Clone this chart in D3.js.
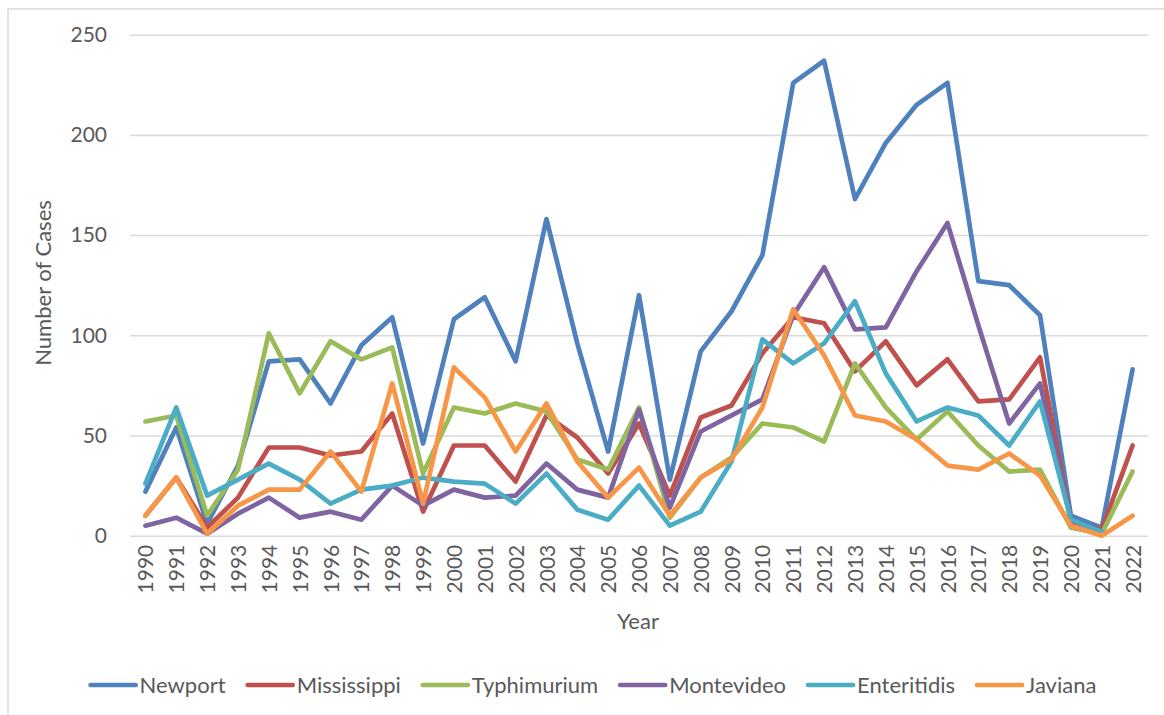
<!DOCTYPE html>
<html>
<head>
<meta charset="utf-8">
<script src="https://cdn.jsdelivr.net/npm/d3@7"></script>
<style>
  body { margin: 0; background: #fff; }
  svg { display: block; font-family: Lato, "Open Sans", sans-serif; }
</style>
</head>
<body>
<div id="chart"></div>
<script>
const years = d3.range(1990, 2023)

const seriesNames = ["Newport", "Mississippi", "Typhimurium", "Montevideo", "Enteritidis", "Javiana"]
const seriesColors = ["#4F81BD", "#C0504D", "#9BBB59", "#8064A2", "#4BACC6", "#F79646"]

const newport     = [22, 54, 6, 35, 87, 88, 66, 95, 109, 46, 108, 119, 87, 158, 96, 42, 120, 28, 92, 112, 140, 226, 237, 168, 196, 215, 226, 127, 125, 110, 10, 4, 83]
const mississippi = [10, 29, 4, 19, 44, 44, 40, 42, 61, 12, 45, 45, 27, 60, 49, 31, 56, 20, 59, 65, 91, 109, 106, 82, 97, 75, 88, 67, 68, 89, 7, 3, 45]
const typhimurium = [57, 60, 10, 33, 101, 71, 97, 88, 94, 31, 64, 61, 66, 62, 38, 33, 64, 9, 29, 39, 56, 54, 47, 86, 64, 48, 62, 45, 32, 33, 4, 1, 32]
const montevideo  = [5, 9, 1, 11, 19, 9, 12, 8, 25, 15, 23, 19, 20, 36, 23, 19, 63, 14, 52, 60, 68, 110, 134, 103, 104, 132, 156, 105, 56, 76, 8, 2, null]
const enteritidis = [26, 64, 20, 28, 36, 28, 16, 23, 25, 29, 27, 26, 16, 31, 13, 8, 25, 5, 12, 37, 98, 86, 96, 117, 81, 57, 64, 60, 45, 67, 8, 2, null]
const javiana     = [10, 29, 1, 15, 23, 23, 42, 22, 76, 16, 84, 69, 42, 66, 37, 19, 34, 10, 29, 38, 64, 113, 90, 60, 57, 48, 35, 33, 41, 30, 5, 0, 10]

const yTicks = [0, 50, 100, 150, 200, 250]

const allValues = [newport, mississippi, typhimurium, montevideo, enteritidis, javiana]

const width = 1164
const height = 715
const textColor = "#595959"
const gridColor = "#D9D9D9"

const svg = d3.select("#chart").append("svg")
    .attr("width", width)
    .attr("height", height)

svg.append("rect").attr("width", width).attr("height", height).attr("fill", "#fff")

// outer chart border (runs off the right/bottom edge)
svg.append("rect")
    .attr("x", 8).attr("y", 9)
    .attr("width", width + 10).attr("height", height + 10)
    .attr("fill", "none")
    .attr("stroke", gridColor)
    .attr("stroke-width", 1.5)

const x = d3.scalePoint()
    .domain(years)
    .range([130, 1148])
    .padding(0.5)

const y = d3.scaleLinear()
    .domain([0, 250])
    .range([535.7, 34.7])

// gridlines
svg.append("g")
    .attr("transform", "translate(130,0)")
    .call(d3.axisLeft(y).tickValues(yTicks).tickSize(-1018).tickFormat(""))
    .call(g => g.select(".domain").remove())
    .call(g => g.selectAll("line").attr("stroke", gridColor).attr("stroke-width", 1.5))

// y axis labels
svg.append("g")
    .attr("transform", "translate(130,0)")
    .call(d3.axisLeft(y).tickValues(yTicks).tickSize(0).tickPadding(23))
    .call(g => g.select(".domain").remove())
    .call(g => g.selectAll("text")
        .attr("fill", textColor)
        .style("font-size", "21px")
        .style("font-family", "Lato, sans-serif"))

// x axis labels
svg.append("g")
    .attr("transform", "translate(0,535.7)")
    .call(d3.axisBottom(x).tickSize(0))
    .call(g => g.select(".domain").remove())
    .call(g => g.selectAll("text")
        .attr("transform", "rotate(-90)")
        .attr("x", -9)
        .attr("y", 0)
        .attr("dy", "0.36em")
        .style("text-anchor", "end")
        .attr("fill", textColor)
        .style("font-size", "21px")
        .style("font-family", "Lato, sans-serif"))

// axis titles
svg.append("text")
    .attr("transform", "translate(51,283) rotate(-90)")
    .attr("text-anchor", "middle")
    .attr("fill", textColor)
    .style("font-size", "22px")
    .text("Number of Cases")

svg.append("text")
    .attr("x", 638)
    .attr("y", 629)
    .attr("text-anchor", "middle")
    .attr("fill", textColor)
    .style("font-size", "22px")
    .text("Year")

// lines
const line = d3.line()
    .defined(d => d.v != null)
    .x(d => x(d.year))
    .y(d => y(d.v))

const series = seriesNames.map((name, i) => ({
  name: name,
  color: seriesColors[i],
  points: years.map((yr, j) => ({ year: yr, v: allValues[i][j] }))
}))

svg.append("g")
  .selectAll("path")
  .data(series)
  .join("path")
    .attr("d", d => line(d.points))
    .attr("fill", "none")
    .attr("stroke", d => d.color)
    .attr("stroke-width", 4.7)
    .attr("stroke-linejoin", "round")
    .attr("stroke-linecap", "round")

// legend
const legend = svg.append("g")
const items = legend.selectAll("g")
  .data(series)
  .join("g")

items.append("line")
    .attr("x1", 0).attr("x2", 45)
    .attr("y1", 0).attr("y2", 0)
    .attr("stroke", d => d.color)
    .attr("stroke-width", 4.7)
    .attr("stroke-linecap", "round")

items.append("text")
    .attr("x", 49)
    .attr("dy", "0.35em")
    .attr("fill", textColor)
    .style("font-size", "22px")
    .text(d => d.name)

// lay the legend out in one centred row
const gap = 22
const widths = items.nodes().map(n => n.getBBox().width)
const total = d3.sum(widths) + gap * (widths.length - 1)
let offset = 593.5 - total / 2
items.attr("transform", (d, i) => {
  const tx = offset
  offset += widths[i] + gap
  return "translate(" + tx + ",685)"
})
</script>
</body>
</html>
